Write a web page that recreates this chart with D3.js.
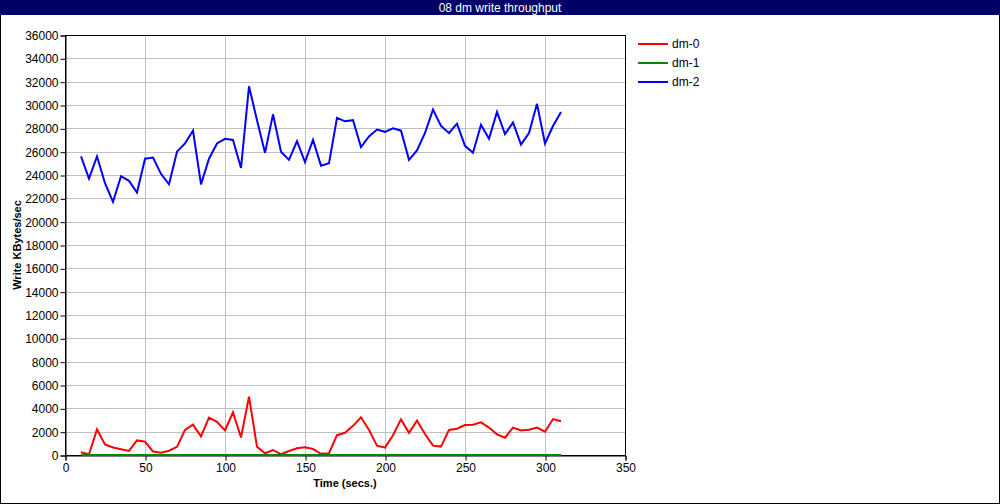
<!DOCTYPE html>
<html><head><meta charset="utf-8">
<script src="https://cdn.jsdelivr.net/npm/d3@7"></script>
<style>
html,body{margin:0;padding:0;background:#fff;}
svg{display:block;font-family:"Liberation Sans",Arial,sans-serif;}
</style></head>
<body>
<svg id="chart" width="1000" height="504"></svg>
<script>
const title = "08 dm write throughput";
const times = d3.range(10, 311, 5);
const seriesNames = ["dm-0", "dm-1", "dm-2"];
const seriesColors = ["#ff0000", "#008800", "#0000ff"];
const dm0 = [230,60,2200,900,650,500,350,1250,1150,300,200,370,700,2150,2600,1600,3200,2850,2100,3650,1500,5000,700,150,430,60,340,570,660,510,100,
             150,1700,1900,2500,3230,2150,800,630,1700,3050,1900,2950,1800,800,720,2150,2250,2570,2600,2800,2350,1770,1480,2350,2110,2170,2350,2000,3080,2890];
const dm1 = times.map(() => 0);
const dm2 = [25600,23700,25600,23300,21700,23900,23500,22500,25400,25500,24100,23200,26000,26700,27800,23200,25400,26700,27100,27000,24600,31600,28700,25900,29200,26000,25300,26900,25100,27000,24800,
             25000,28900,28600,28700,26400,27300,27900,27700,28000,27800,25300,26100,27600,29600,28200,27600,28400,26500,25900,28300,27100,29400,27500,28500,26600,27600,30100,26700,28200,29400];
const xTicks = d3.range(0, 351, 50);
const yTicks = d3.range(0, 36001, 2000);
const xLabel = "Time (secs.)";
const yLabel = "Write KBytes/sec";

const svg = d3.select("#chart");
const W = 1000, H = 504;
const m = {left: 65, top: 35, right: 625, bottom: 455};

svg.append("rect").attr("x",0.5).attr("y",0.5).attr("width",W-1).attr("height",H-1)
  .attr("fill","#fff").attr("stroke","#000");
svg.append("rect").attr("x",0).attr("y",0).attr("width",W).attr("height",15).attr("fill","#000066");
svg.append("text").attr("x",W/2).attr("y",11.5).attr("text-anchor","middle")
  .attr("fill","#fff").attr("font-size",12).text(title);

const x = d3.scaleLinear().domain([0,350]).range([m.left, m.right]);
const y = d3.scaleLinear().domain([0,36000]).range([m.bottom, m.top]);

// grid
const g = svg.append("g");
g.selectAll(".vg").data(xTicks.filter(d=>d>0 && d<350)).enter().append("line")
  .attr("x1",d=>Math.round(x(d))+0.5).attr("x2",d=>Math.round(x(d))+0.5)
  .attr("y1",m.top).attr("y2",m.bottom).attr("stroke","#c0c0c0");
g.selectAll(".hg").data(yTicks.filter(d=>d>0 && d<36000)).enter().append("line")
  .attr("y1",d=>Math.round(y(d))+0.5).attr("y2",d=>Math.round(y(d))+0.5)
  .attr("x1",m.left).attr("x2",m.right).attr("stroke","#c0c0c0");

// frame
svg.append("rect").attr("x",m.left+0.5).attr("y",m.top+0.5)
  .attr("width",m.right-m.left).attr("height",m.bottom-m.top)
  .attr("fill","none").attr("stroke","#000");

// axes
const xAxis = d3.axisBottom(x).tickValues(xTicks).tickSize(5).tickPadding(3).tickFormat(d3.format("d"));
const yAxis = d3.axisLeft(y).tickValues(yTicks).tickSize(5).tickPadding(2).tickFormat(d3.format("d"));
const gx = svg.append("g").attr("transform",`translate(0.5,${m.bottom+0.5})`).call(xAxis);
const gy = svg.append("g").attr("transform",`translate(${m.left+0.5},0.5)`).call(yAxis);
[gx,gy].forEach(a=>{
  a.select(".domain").attr("stroke","#000");
  a.selectAll(".tick line").attr("stroke","#000");
  a.selectAll("text").attr("fill","#000").attr("font-size",12)
    .attr("font-family",'"Liberation Sans",Arial,sans-serif');
});

svg.append("text").attr("x",(m.left+m.right)/2).attr("y",487).attr("text-anchor","middle")
  .attr("font-size",11).attr("font-weight","bold").text(xLabel);
svg.append("text").attr("transform",`translate(21,${(m.top+m.bottom)/2}) rotate(-90)`)
  .attr("text-anchor","middle").attr("font-size",11).attr("font-weight","bold").text(yLabel);

// lines
const data = [dm0, dm1, dm2];
const line = d3.line().x((d,i)=>x(times[i])).y(d=>y(d));
data.forEach((vals,k)=>{
  svg.append("path").datum(vals).attr("d",line).attr("fill","none")
    .attr("stroke",seriesColors[k]).attr("stroke-width",2).attr("stroke-linejoin","miter");
});

// legend
const legY = [44, 63, 82];
seriesNames.forEach((n,k)=>{
  svg.append("line").attr("x1",638).attr("x2",668).attr("y1",legY[k]).attr("y2",legY[k])
    .attr("stroke",seriesColors[k]).attr("stroke-width",2);
  svg.append("text").attr("x",672).attr("y",legY[k]+4).attr("font-size",12).attr("fill","#000").text(n);
});
</script>
</body></html>
